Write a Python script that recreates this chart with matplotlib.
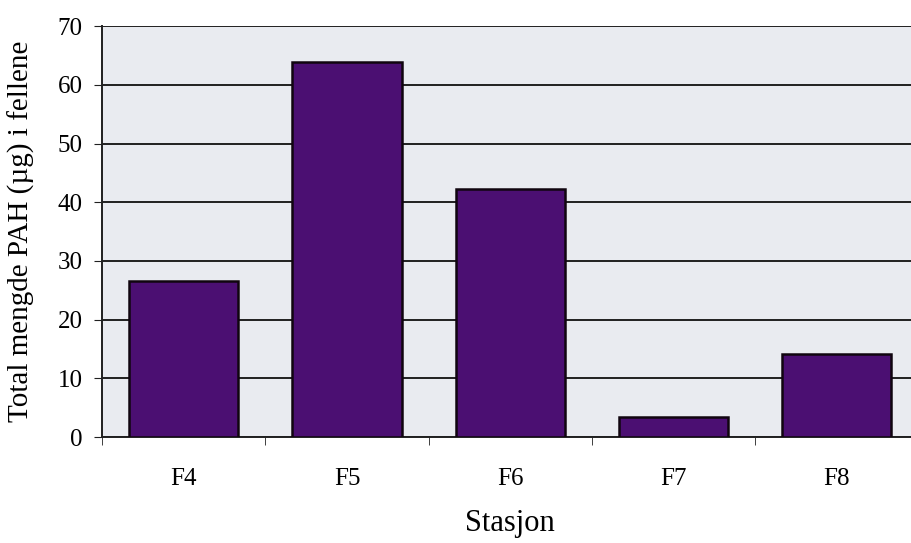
import matplotlib.pyplot as plt
import numpy as np

# Total PAH per station
stations = ['F4', 'F5', 'F6', 'F7', 'F8']
pah_total = [26.6, 63.9, 42.3, 3.4, 14.1]

plt.rcParams['font.family'] = ['Liberation Serif', 'DejaVu Serif']

fig = plt.figure(figsize=(9.12, 5.43), dpi=100)
ax = fig.add_axes([0.112, 0.195, 0.895, 0.757])
ax.set_facecolor('#e9ebf0')

x = np.arange(len(stations))
ax.bar(x, pah_total, width=0.67, color='#4b0f72', edgecolor='#10050f', linewidth=1.8, zorder=3)

ax.set_xlim(-0.5, len(stations) - 0.5)
ax.set_ylim(0, 70)
ax.set_yticks(range(0, 71, 10))
ax.yaxis.grid(True, color='#202020', linewidth=1.4, zorder=0)

# category labels centred, ticks on the category boundaries
ax.set_xticks(x)
ax.set_xticklabels(stations, fontsize=18)
ax.set_xticks(np.arange(-0.5, len(stations)), minor=True)
ax.tick_params(axis='x', which='major', length=0, pad=22)
ax.tick_params(axis='x', which='minor', length=6, direction='out', color='#202020')
ax.tick_params(axis='y', labelsize=18, length=6, direction='out', color='#202020', pad=8)

for side in ['top', 'right']:
    ax.spines[side].set_visible(False)
ax.spines['left'].set_color('#202020')
ax.spines['bottom'].set_color('#202020')
ax.spines['left'].set_linewidth(1.4)
ax.spines['bottom'].set_linewidth(1.4)

ax.set_xlabel('Stasjon', fontsize=22, labelpad=14)
ax.set_ylabel('Total mengde PAH (µg) i fellene', fontsize=21, labelpad=16)

plt.savefig('out.png', dpi=100)
